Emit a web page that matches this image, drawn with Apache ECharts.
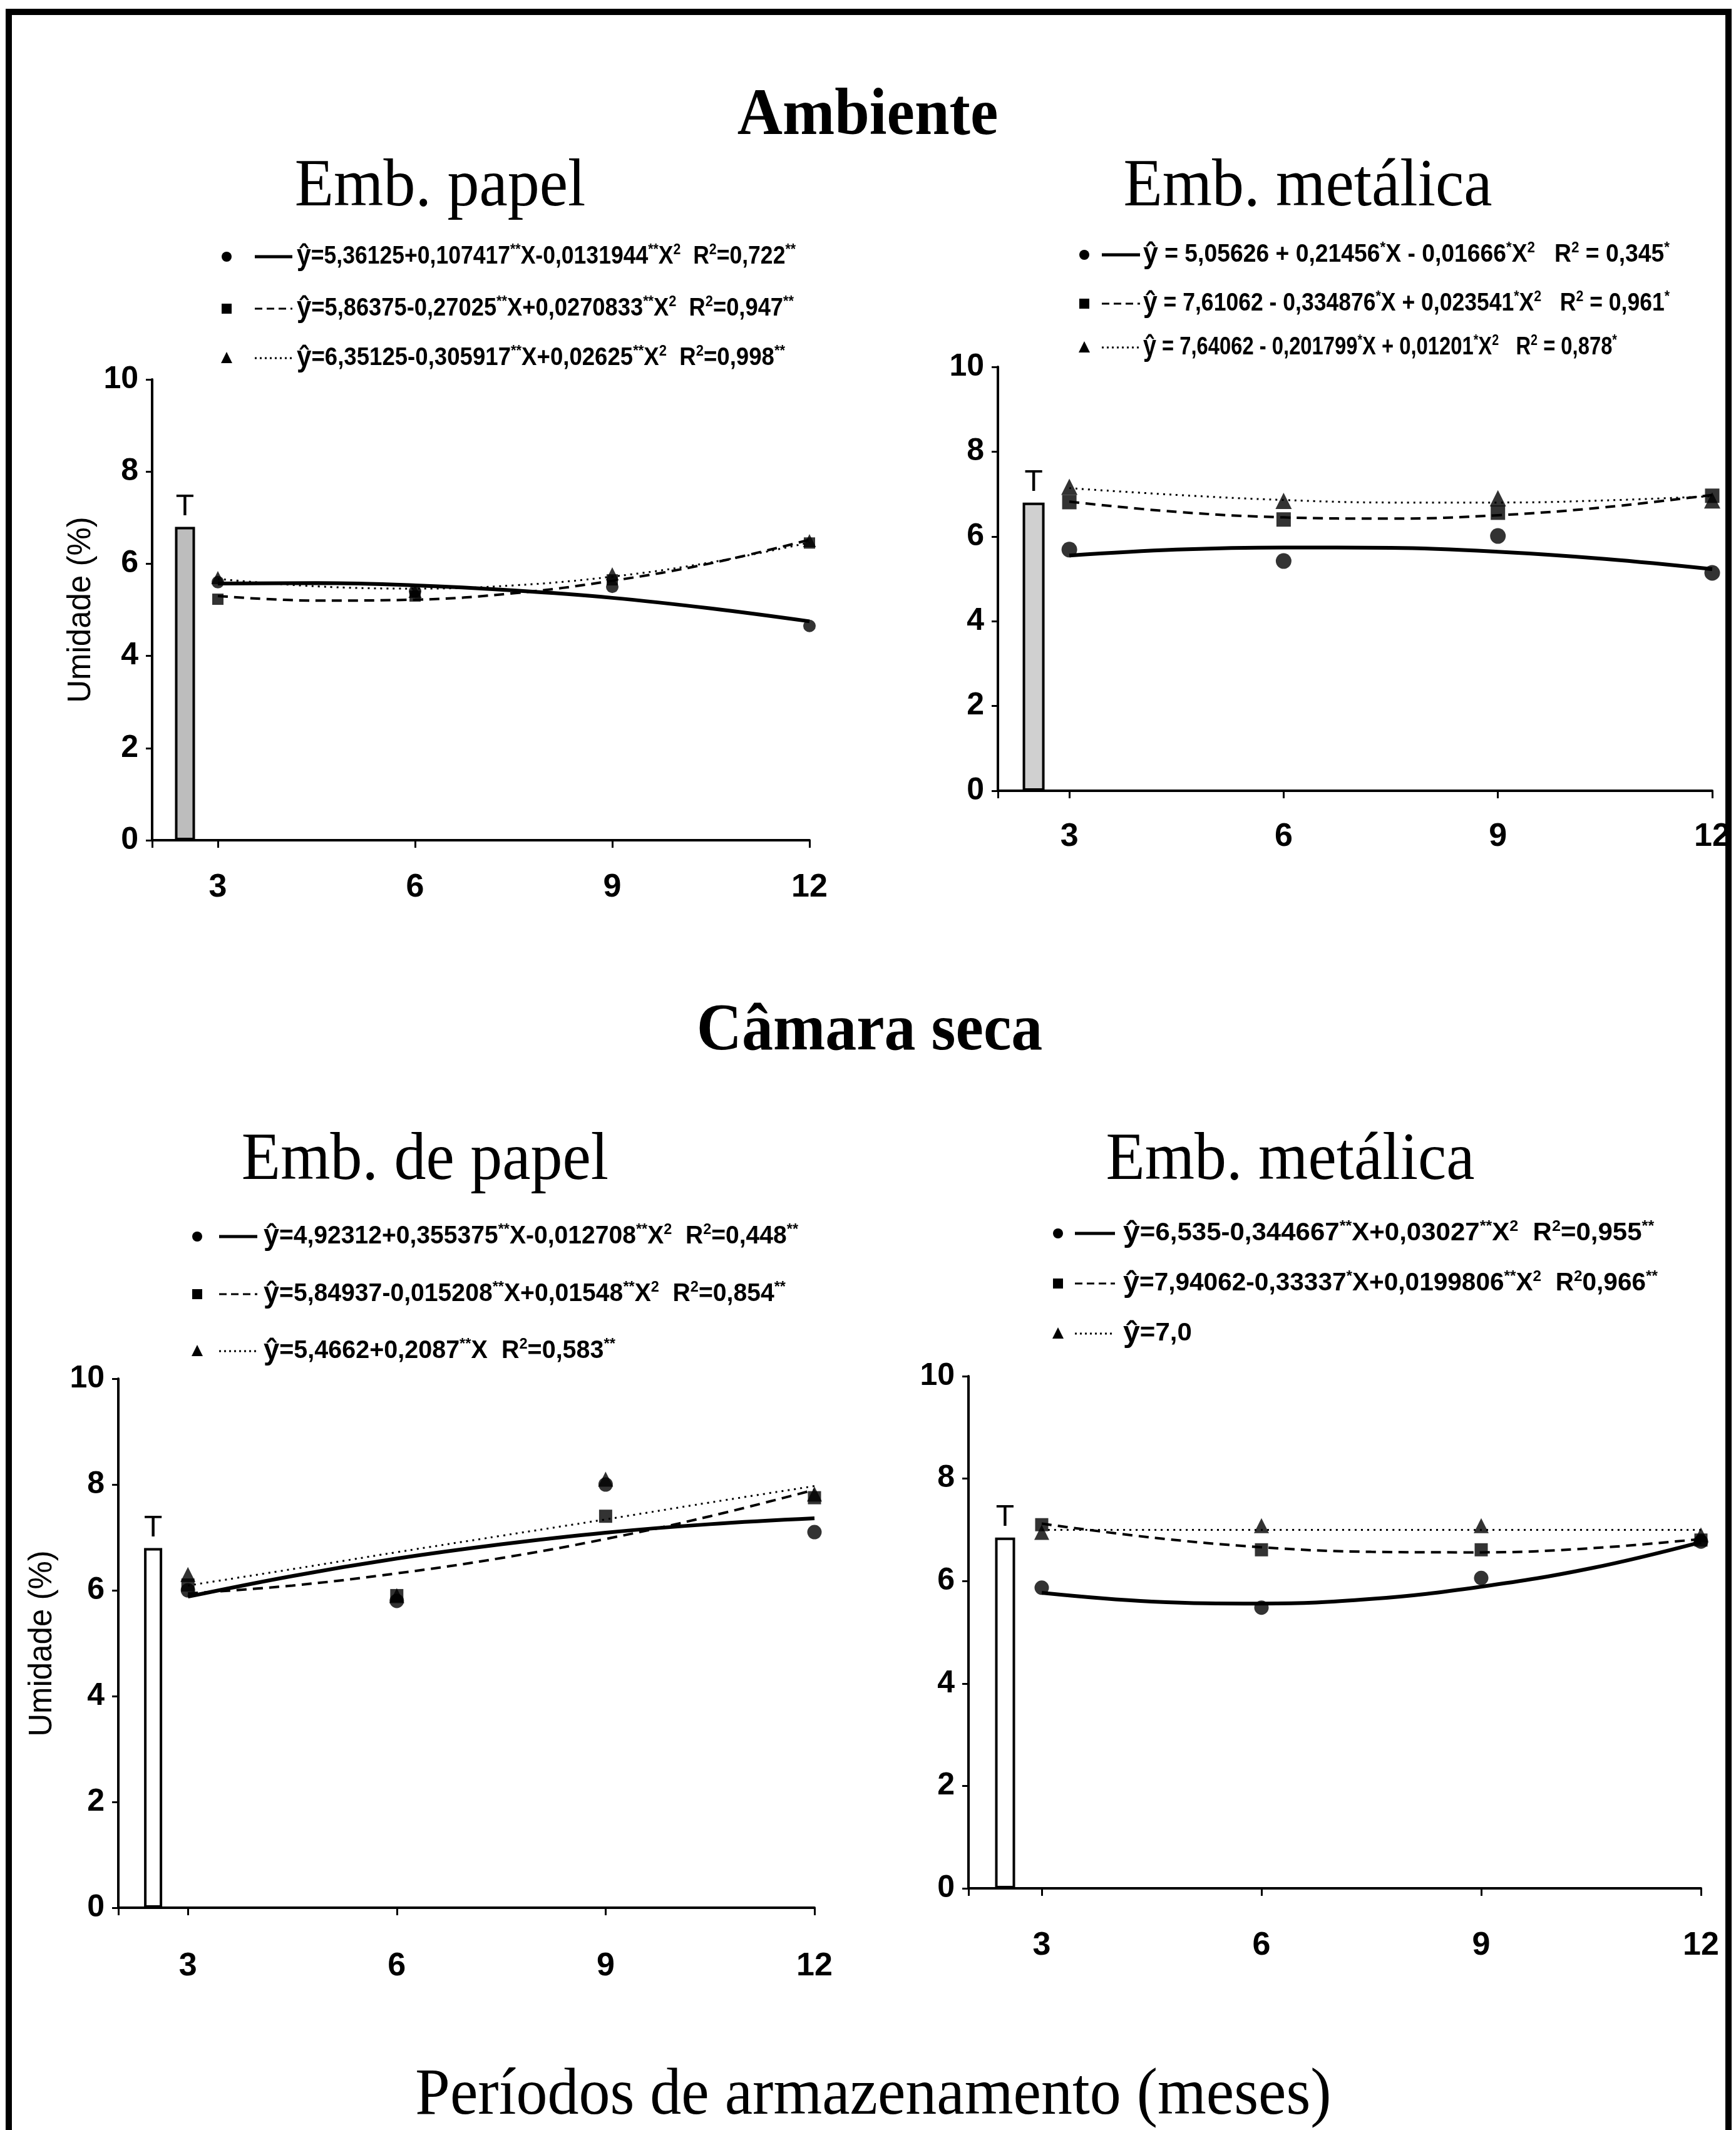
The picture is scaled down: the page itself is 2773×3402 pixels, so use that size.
<!DOCTYPE html>
<html>
<head>
<meta charset="utf-8">
<script src="https://cdn.jsdelivr.net/npm/echarts@6/dist/echarts.min.js"></script>
<style>
html,body{margin:0;padding:0;background:#ffffff;}
#chart{width:2773px;height:3402px;}
</style>
</head>
<body>
<div id="chart"></div>
<script>
// ---------------- DATA ----------------
const months = [3, 6, 9, 12];                 // storage periods (x of observed points)
const curveX = [3, 4.5, 6, 7.5, 9, 10.5, 12];  // x positions where the fitted curves were read
const xTickLabels = [3, 6, 9, 12];
const testemunha = [6.8, 6.8, 6.8, 6.85];     // "T" bar (initial moisture) per panel

// Ambiente – Emb. papel
const ambPapelCirculo   = [5.6, 5.4, 5.5, 4.65];
const ambPapelQuadrado  = [5.23, 5.3, 5.65, 6.45];
const ambPapelTriangulo = [5.7, 5.4, 5.78, 6.5];
const ambPapelCurvaSolida    = [5.57, 5.58, 5.53, 5.42, 5.26, 5.03, 4.75];
const ambPapelCurvaTracejada = [5.30, 5.20, 5.22, 5.36, 5.63, 6.01, 6.52];
const ambPapelCurvaPontilhada= [5.67, 5.51, 5.46, 5.53, 5.72, 6.03, 6.46];

// Ambiente – Emb. metálica
const ambMetCirculo   = [5.69, 5.42, 6.01, 5.14];
const ambMetQuadrado  = [6.81, 6.40, 6.56, 6.96];
const ambMetTriangulo = [7.17, 6.84, 6.90, 6.85];
const ambMetCurvaSolida    = [5.55, 5.69, 5.74, 5.73, 5.64, 5.47, 5.23];
const ambMetCurvaTracejada = [6.82, 6.58, 6.45, 6.42, 6.50, 6.69, 6.98];
const ambMetCurvaPontilhada= [7.14, 6.98, 6.86, 6.80, 6.80, 6.85, 6.95];

// Câmara seca – Emb. de papel
const camPapelCirculo   = [6.0, 5.8, 8.0, 7.1];
const camPapelQuadrado  = [6.1, 5.9, 7.4, 7.75];
const camPapelTriangulo = [6.3, 5.9, 8.1, 7.82];
const camPapelCurvaSolida    = [5.88, 6.27, 6.60, 6.87, 7.09, 7.25, 7.36];
const camPapelCurvaTracejada = [5.94, 6.09, 6.32, 6.61, 6.97, 7.40, 7.90];
const camPapelCurvaPontilhada= [6.09, 6.40, 6.72, 7.03, 7.34, 7.66, 7.97];

// Câmara seca – Emb. metálica
const camMetCirculo   = [5.87, 5.48, 6.06, 6.77];
const camMetQuadrado  = [7.10, 6.61, 6.61, 6.80];
const camMetTriangulo = [6.95, 7.08, 7.08, 6.90];
const camMetCurvaSolida    = [5.77, 5.60, 5.56, 5.65, 5.89, 6.25, 6.76];
const camMetCurvaTracejada = [7.12, 6.85, 6.66, 6.57, 6.56, 6.64, 6.82];
const camMetCurvaPontilhada= [7.0, 7.0, 7.0, 7.0, 7.0, 7.0, 7.0];

// Legend equations (rich text markup: h = y-hat, s = superscript)
const eqAmbPapel = [
  "{h|ŷ}=5,36125+0,107417{s|**}X-0,0131944{s|**}X{s|2}  R{s|2}=0,722{s|**}",
  "{h|ŷ}=5,86375-0,27025{s|**}X+0,0270833{s|**}X{s|2}  R{s|2}=0,947{s|**}",
  "{h|ŷ}=6,35125-0,305917{s|**}X+0,02625{s|**}X{s|2}  R{s|2}=0,998{s|**}"
];
const eqAmbMet = [
  "{h|ŷ} = 5,05626 + 0,21456{s|*}X - 0,01666{s|*}X{s|2}   R{s|2} = 0,345{s|*}",
  "{h|ŷ} = 7,61062 - 0,334876{s|*}X + 0,023541{s|*}X{s|2}   R{s|2} = 0,961{s|*}",
  "{h|ŷ} = 7,64062 - 0,201799{s|*}X + 0,01201{s|*}X{s|2}   R{s|2} = 0,878{s|*}"
];
const eqCamPapel = [
  "{h|ŷ}=4,92312+0,355375{s|**}X-0,012708{s|**}X{s|2}  R{s|2}=0,448{s|**}",
  "{h|ŷ}=5,84937-0,015208{s|**}X+0,01548{s|**}X{s|2}  R{s|2}=0,854{s|**}",
  "{h|ŷ}=5,4662+0,2087{s|**}X  R{s|2}=0,583{s|**}"
];
const eqCamMet = [
  "{h|ŷ}=6,535-0,344667{s|**}X+0,03027{s|**}X{s|2}  R{s|2}=0,955{s|**}",
  "{h|ŷ}=7,94062-0,33337{s|*}X+0,0199806{s|**}X{s|2}  R{s|2}0,966{s|**}",
  "{h|ŷ}=7,0"
];

// ---------------- LAYOUT / STYLE ----------------
const SANS = '"Liberation Sans", Arial, sans-serif';
const SERIF = '"Liberation Serif", "Times New Roman", serif';
const T_X = 2.5; // x position of the "T" control bar

const panels = [
  { grid:{left:243, top:606, width:1050, height:736}, xMargin:50, barW:32, barFill:'#bdbdbd', sym:20,
    circ:ambPapelCirculo, quad:ambPapelQuadrado, tri:ambPapelTriangulo,
    cSol:ambPapelCurvaSolida, cDash:ambPapelCurvaTracejada, cDot:ambPapelCurvaPontilhada,
    leg:{mx:362, l1:407, l2:467, tx:474, rows:[410,493,572], w:[797,794,780], eq:eqAmbPapel} },
  { grid:{left:1594, top:586, width:1141, height:677}, xMargin:48, barW:35, barFill:'#d0d0d0', sym:25,
    circ:ambMetCirculo, quad:ambMetQuadrado, tri:ambMetTriangulo,
    cSol:ambMetCurvaSolida, cDash:ambMetCurvaTracejada, cDot:ambMetCurvaPontilhada,
    leg:{mx:1732, l1:1760, l2:1821, tx:1826, rows:[407,485,555], w:[841,841,757], eq:eqAmbMet} },
  { grid:{left:189, top:2202, width:1112, height:845}, xMargin:68, barW:29, barFill:'#ffffff', sym:23,
    circ:camPapelCirculo, quad:camPapelQuadrado, tri:camPapelTriangulo,
    cSol:camPapelCurvaSolida, cDash:camPapelCurvaTracejada, cDot:camPapelCurvaPontilhada,
    leg:{mx:315, l1:350, l2:411, tx:421, rows:[1975,2067,2158], w:[854,834,562], eq:eqCamPapel} },
  { grid:{left:1547, top:2198, width:1170, height:818}, xMargin:66, barW:32, barFill:'#ffffff', sym:23,
    circ:camMetCirculo, quad:camMetQuadrado, tri:camMetTriangulo,
    cSol:camMetCurvaSolida, cDash:camMetCurvaTracejada, cDot:camMetCurvaPontilhada,
    leg:{mx:1690, l1:1717, l2:1781, tx:1794, rows:[1970,2050,2130], w:[854,854,126], eq:eqCamMet} }
];

// ---------------- BUILD OPTION ----------------
const grid = [], xAxis = [], yAxis = [], series = [], graphic = [];

panels.forEach((p, i) => {
  grid.push(Object.assign({containLabel:false}, p.grid));
  xAxis.push({
    gridIndex:i, type:'value', min:2, max:12,
    axisLine:{show:true, onZero:false, lineStyle:{color:'#000', width:4}},
    axisTick:{show:true, customValues:[2, 3, 6, 9, 12], length:12, lineStyle:{color:'#000', width:3}},
    axisLabel:{show:true, customValues:xTickLabels, margin:p.xMargin, fontSize:52, fontWeight:'bold', color:'#000', fontFamily:SANS},
    splitLine:{show:false}
  });
  yAxis.push({
    gridIndex:i, type:'value', min:0, max:10, interval:2,
    axisLine:{show:true, onZero:false, lineStyle:{color:'#000', width:4}},
    axisTick:{show:true, length:10, lineStyle:{color:'#000', width:3}},
    axisLabel:{margin:22, fontSize:50, fontWeight:'bold', color:'#000', fontFamily:SANS},
    splitLine:{show:false}
  });
  series.push({
    type:'bar', xAxisIndex:i, yAxisIndex:i, barWidth:p.barW, silent:true, z:2,
    data:[[T_X, testemunha[i]]],
    itemStyle:{color:p.barFill, borderColor:'#000', borderWidth:4},
    label:{show:true, position:'top', distance:8, formatter:'T', fontSize:48, color:'#000', fontFamily:SANS}
  });
  const curves = [
    {d:p.cSol,  w:6, t:'solid'},
    {d:p.cDash, w:4, t:[16, 10]},
    {d:p.cDot,  w:3, t:[3, 7]}
  ];
  curves.forEach(c => series.push({
    type:'line', xAxisIndex:i, yAxisIndex:i, smooth:0.4, showSymbol:false, silent:true, z:3,
    data:curveX.map((x, k) => [x, c.d[k]]),
    lineStyle:{color:'#000', width:c.w, type:c.t}
  }));
  const pts = [
    {d:p.circ, s:'circle', k:1.0},
    {d:p.quad, s:'rect', k:0.9},
    {d:p.tri,  s:'triangle', k:1.05}
  ];
  pts.forEach(q => series.push({
    type:'scatter', xAxisIndex:i, yAxisIndex:i, symbol:q.s, symbolSize:Math.round(p.sym*q.k), silent:true, z:5,
    data:months.map((m, k) => [m, q.d[k]]),
    itemStyle:{color:'#000'}
  }));
});

// ---------------- GRAPHIC TEXT / LEGENDS ----------------
const mctx = document.createElement('canvas').getContext('2d');
const BASE = {size:40, weight:'bold'};
const RICH = {
  h:{fontSize:46, fontWeight:'bold', fontFamily:SANS, fill:'#000'},
  s:{fontSize:24, fontWeight:'bold', fontFamily:SANS, fill:'#000', verticalAlign:'top'}
};
function measureRich(str){
  let total = 0; const re = /\{(\w+)\|([^}]*)\}/g; let last = 0, m;
  const meas = (t, st) => { mctx.font = st.weight + ' ' + st.size + 'px ' + SANS; return mctx.measureText(t).width; };
  while ((m = re.exec(str)) !== null) {
    if (m.index > last) total += meas(str.slice(last, m.index), BASE);
    const r = RICH[m[1]];
    total += meas(m[2], {size:r.fontSize, weight:r.fontWeight});
    last = re.lastIndex;
  }
  if (last < str.length) total += meas(str.slice(last), BASE);
  return total;
}

panels.forEach(p => {
  const L = p.leg;
  L.rows.forEach((y, r) => {
    if (r === 0) graphic.push({type:'circle', shape:{cx:L.mx, cy:y, r:8}, style:{fill:'#000'}});
    if (r === 1) graphic.push({type:'rect', shape:{x:L.mx-8, y:y-8, width:16, height:16}, style:{fill:'#000'}});
    if (r === 2) graphic.push({type:'polygon', shape:{points:[[L.mx, y-10], [L.mx-9, y+8], [L.mx+9, y+8]]}, style:{fill:'#000'}});
    const lw = [5, 3, 3][r];
    const dash = [null, [12, 7], [3, 5]][r];
    const ls = {stroke:'#000', lineWidth:lw};
    if (dash) ls.lineDash = dash;
    graphic.push({type:'line', shape:{x1:L.l1, y1:y, x2:L.l2, y2:y}, style:ls});
    const eq = L.eq[r];
    const nat = measureRich(eq);
    let sx = L.w[r] / nat; sx = Math.max(0.6, Math.min(1.05, sx));
    graphic.push({
      type:'text', x:L.tx, y:y, scaleX:sx,
      style:{text:eq, x:0, y:0, fontSize:BASE.size, fontWeight:BASE.weight, fontFamily:SANS, fill:'#000',
             align:'left', verticalAlign:'middle', rich:RICH}
    });
  });
});

function title(text, x, y, size, bold){
  graphic.push({type:'text', x:x, y:y, scaleY:1.05,
    style:{text:text, fontSize:size, fontWeight:bold ? 'bold' : 'normal', fontFamily:SERIF, fill:'#000', align:'center', verticalAlign:'middle'}});
}
title('Ambiente', 1386, 187, 100, true);
title('Emb. papel', 703, 300, 102, false);
title('Emb. metálica', 2089, 300, 102, false);
title('Câmara seca', 1389, 1649, 100, true);
title('Emb. de papel', 679, 1855, 102, false);
title('Emb. metálica', 2061, 1855, 102, false);
title('Períodos de armazenamento (meses)', 1395, 3348, 100, false);

function yName(x, y){
  graphic.push({type:'text', x:x, y:y, rotation:Math.PI/2,
    style:{text:'Umidade (%)', fontSize:51, fontWeight:'normal', fontFamily:SANS, fill:'#000', align:'center', verticalAlign:'middle'}});
}
yName(130, 974);
yName(68, 2625);

// outer frame (bottom edge lies outside the picture, as in the scan)
graphic.push({type:'rect', shape:{x:14, y:19, width:2747, height:3420}, style:{fill:null, stroke:'#000', lineWidth:10}, z:100});

const chart = echarts.init(document.getElementById('chart'), null, {renderer:'canvas'});
chart.setOption({
  backgroundColor:'#ffffff',
  animation:false,
  textStyle:{fontFamily:SANS, color:'#000'},
  grid, xAxis, yAxis, series, graphic
});
</script>
</body>
</html>
